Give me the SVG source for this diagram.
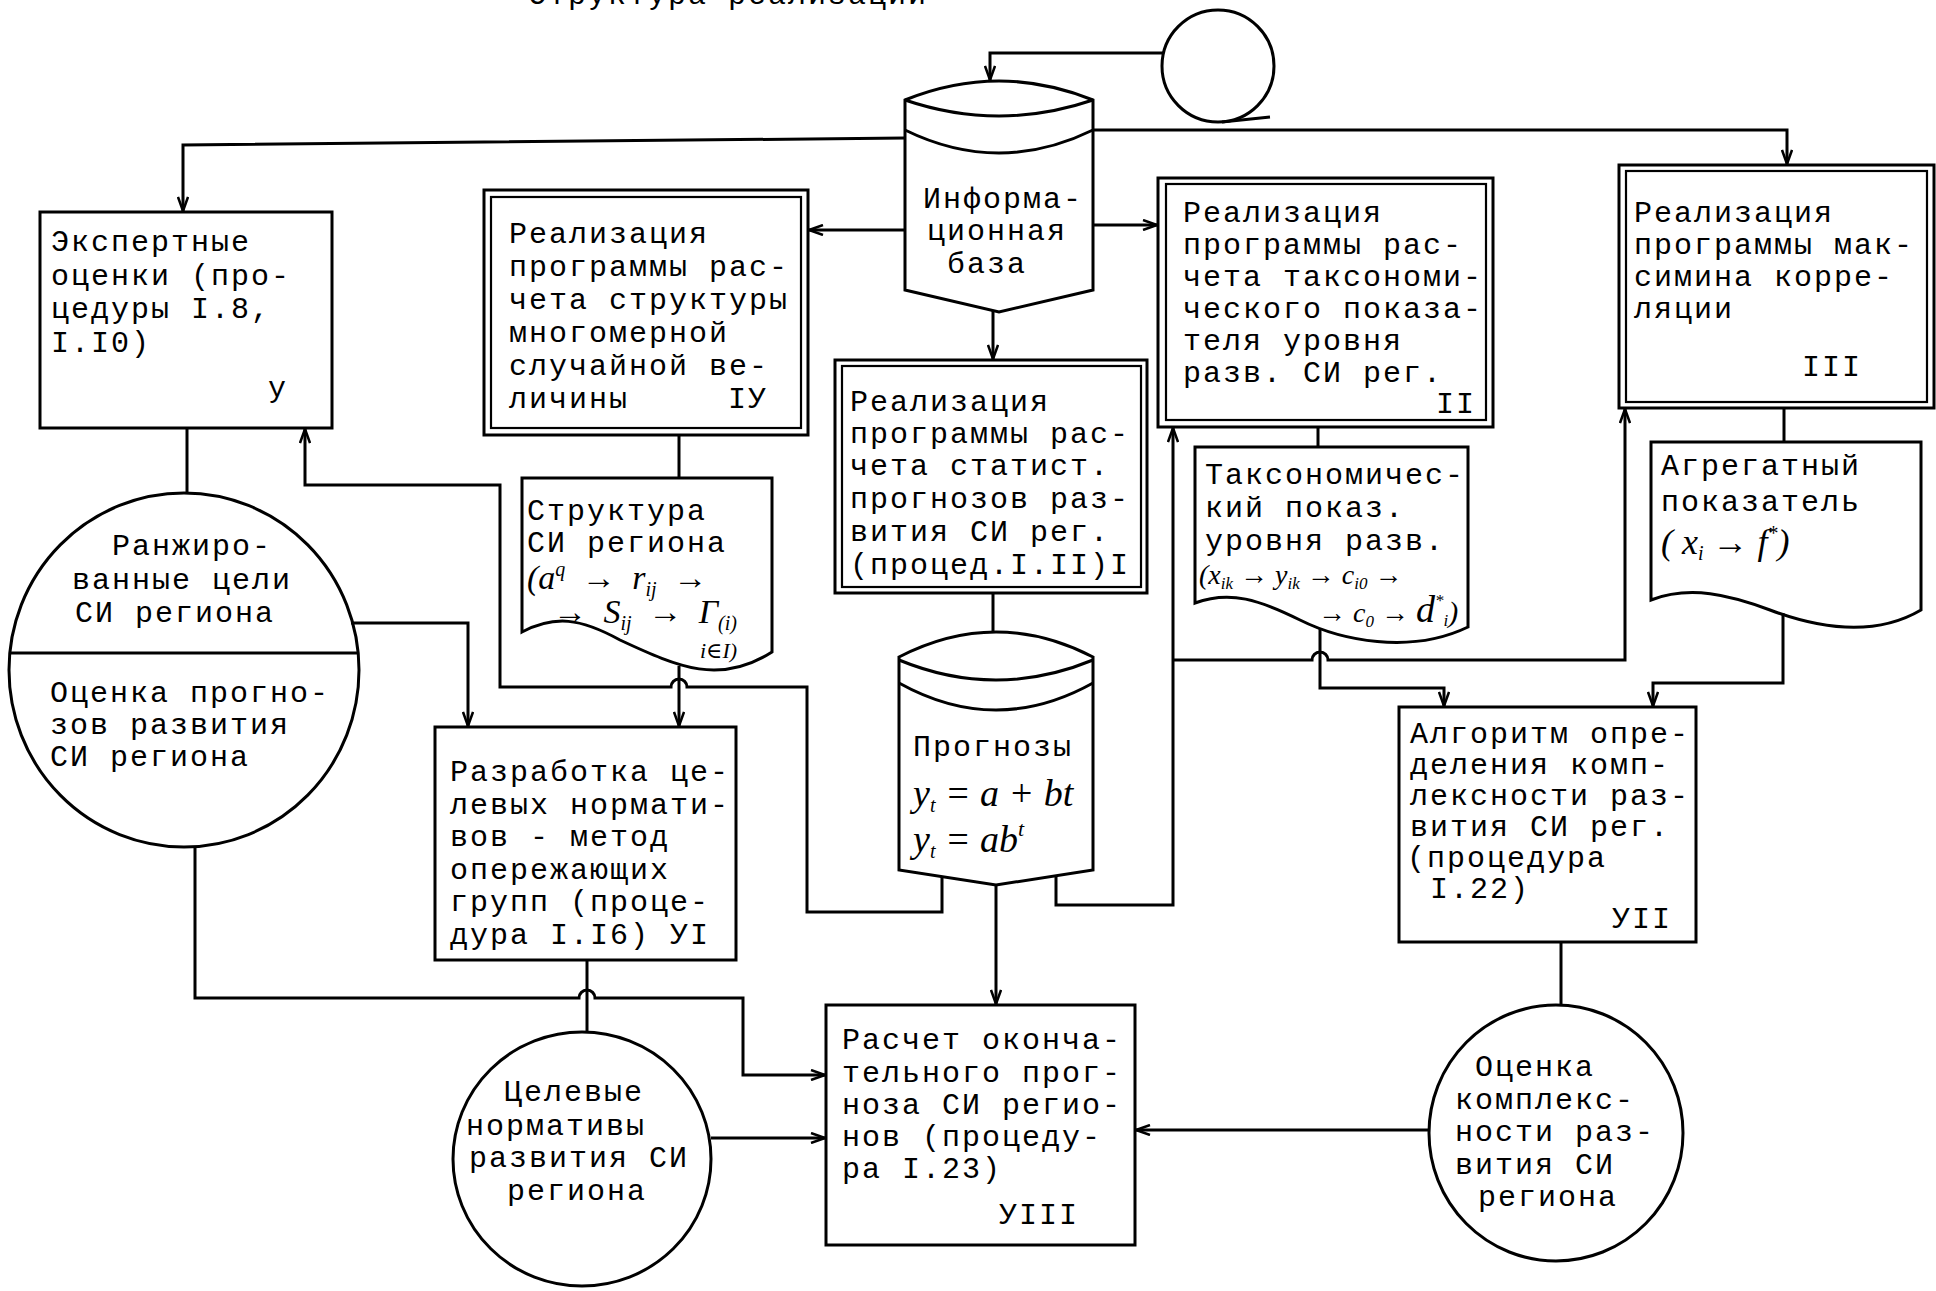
<svg xmlns="http://www.w3.org/2000/svg" width="1936" height="1291" viewBox="0 0 1936 1291">
<defs>
<style>
.bx{fill:#fff;stroke:#000;stroke-width:3}
.bi{fill:none;stroke:#000;stroke-width:2.2}
.ln{fill:none;stroke:#000;stroke-width:3}
.t{font-family:"Liberation Mono","DejaVu Sans Mono",monospace;font-size:30px;letter-spacing:2px;fill:#000}
.m{font-family:"Liberation Serif","DejaVu Serif",serif;font-style:italic;fill:#000}
</style>
<marker id="a" viewBox="0 0 16 12" refX="15" refY="6" markerWidth="16" markerHeight="12" markerUnits="userSpaceOnUse" orient="auto"><path d="M1,1 L15,6 L1,11" fill="none" stroke="#000" stroke-width="2.5"/></marker>
</defs>
<rect width="1936" height="1291" fill="#fff"/>
<text class="t" x="528" y="4">Структура реализации</text>

<g id="tape">
<circle cx="1218" cy="66" r="56" class="bx"/>
<path d="M1222,122 L1270,117" class="ln"/>
</g>

<g id="infobase">
<path d="M905,100 Q999,62 1093,100 V290 L999,312 L905,290 Z" class="bx"/>
<path d="M905,100 Q999,132 1093,100 M905,130 Q999,176 1093,130" class="ln"/>
<text class="t" x="923" y="208">Информа-</text>
<text class="t" x="927" y="240">ционная</text>
<text class="t" x="947" y="273">база</text>
</g>

<g id="n5">
<rect x="40" y="212" width="292" height="216" class="bx"/>
<text class="t" x="51" y="251">Экспертные</text>
<text class="t" x="51" y="285">оценки (про-</text>
<text class="t" x="51" y="318">цедуры I.8,</text>
<text class="t" x="51" y="352">I.I0)</text>
<text class="t" x="268" y="397">у</text>
</g>

<g id="n4">
<rect x="484" y="190" width="324" height="245" class="bx"/>
<rect x="491" y="197" width="310" height="231" class="bi"/>
<text class="t" x="509" y="243">Реализация</text>
<text class="t" x="509" y="276">программы рас-</text>
<text class="t" x="509" y="309">чета структуры</text>
<text class="t" x="509" y="342">многомерной</text>
<text class="t" x="509" y="375">случайной ве-</text>
<text class="t" x="509" y="408">личины</text>
<text class="t" x="728" y="408">IУ</text>
</g>

<g id="n1">
<rect x="835" y="360" width="312" height="233" class="bx"/>
<rect x="842" y="366" width="299" height="221" class="bi"/>
<text class="t" x="850" y="411">Реализация</text>
<text class="t" x="850" y="443">программы рас-</text>
<text class="t" x="850" y="475">чета статист.</text>
<text class="t" x="850" y="508">прогнозов раз-</text>
<text class="t" x="850" y="541">вития СИ рег.</text>
<text class="t" x="850" y="574">(процед.I.II)I</text>
</g>

<g id="n2">
<rect x="1158" y="178" width="335" height="249" class="bx"/>
<rect x="1166" y="184" width="320" height="236" class="bi"/>
<text class="t" x="1183" y="222">Реализация</text>
<text class="t" x="1183" y="254">программы рас-</text>
<text class="t" x="1183" y="286">чета таксономи-</text>
<text class="t" x="1183" y="318">ческого показа-</text>
<text class="t" x="1183" y="350">теля уровня</text>
<text class="t" x="1183" y="382">разв. СИ рег.</text>
<text class="t" x="1436" y="413">II</text>
</g>

<g id="n3">
<rect x="1619" y="165" width="315" height="243" class="bx"/>
<rect x="1626" y="171" width="301" height="231" class="bi"/>
<text class="t" x="1634" y="222">Реализация</text>
<text class="t" x="1634" y="254">программы мак-</text>
<text class="t" x="1634" y="286">симина корре-</text>
<text class="t" x="1634" y="318">ляции</text>
<text class="t" x="1802" y="376">III</text>
</g>

<g id="doc-struct">
<path d="M522,478 H772 V652 C720,685 680,668 620,640 C580,618 555,615 522,632 Z" class="bx"/>
<text class="t" x="527" y="520">Структура</text>
<text class="t" x="527" y="552">СИ региона</text>
<text class="m" x="527" y="589" font-size="34" word-spacing="8">(a<tspan dy="-13" font-size="20">q</tspan><tspan dy="13"> → r</tspan><tspan dy="7" font-size="20">ij</tspan><tspan dy="-7"> →</tspan></text>
<text class="m" x="553" y="623" font-size="34" word-spacing="8">→ S<tspan dy="7" font-size="20">ij</tspan><tspan dy="-7"> → Γ</tspan><tspan dy="7" font-size="20">(i)</tspan></text>
<text class="m" x="700" y="658" font-size="22">i∈I)</text>
</g>

<g id="doc-taxon">
<path d="M1195,447 H1468 V627 C1410,655 1340,640 1300,620 C1260,600 1230,590 1195,603 Z" class="bx"/>
<text class="t" x="1205" y="484">Таксономичес-</text>
<text class="t" x="1205" y="517">кий показ.</text>
<text class="t" x="1205" y="550">уровня разв.</text>
<text class="m" x="1199" y="584" font-size="28">(x<tspan dy="5" font-size="17">ik</tspan><tspan dy="-5"> → y</tspan><tspan dy="5" font-size="17">ik</tspan><tspan dy="-5"> → c</tspan><tspan dy="5" font-size="17">i0</tspan><tspan dy="-5"> →</tspan></text>
<text class="m" x="1318" y="622" font-size="28">→ c<tspan dy="5" font-size="17">0</tspan><tspan dy="-5"> → </tspan><tspan font-size="38">d</tspan><tspan dy="-16" font-size="17">*</tspan><tspan dy="20" font-size="17">i</tspan><tspan dy="-4" font-size="30">)</tspan></text>
</g>

<g id="doc-aggr">
<path d="M1651,442 H1921 V610 C1870,640 1810,625 1770,610 C1730,595 1690,585 1651,600 Z" class="bx"/>
<text class="t" x="1661" y="475">Агрегатный</text>
<text class="t" x="1661" y="511">показатель</text>
<text class="m" x="1661" y="554" font-size="36">( x<tspan dy="6" font-size="20">i</tspan><tspan dy="-6"> → f</tspan><tspan dy="-14" font-size="20">*</tspan><tspan dy="14">)</tspan></text>
</g>

<g id="forecasts">
<path d="M899,657 Q996,607 1093,657 V870 L996,885 L899,870 Z" class="bx"/>
<path d="M899,660 Q996,700 1093,660 M899,683 Q996,737 1093,683" class="ln"/>
<text class="t" x="913" y="756">Прогнозы</text>
<text class="m" x="913" y="806" font-size="38">y<tspan dy="6" font-size="20">t</tspan><tspan dy="-6"> = a + bt</tspan></text>
<text class="m" x="913" y="852" font-size="38">y<tspan dy="6" font-size="20">t</tspan><tspan dy="-6"> = ab</tspan><tspan dy="-16" font-size="22">t</tspan></text>
</g>

<g id="goals">
<ellipse cx="184" cy="670" rx="175" ry="177" class="bx"/>
<path d="M10,653 H358" class="ln"/>
<text class="t" x="112" y="555">Ранжиро-</text>
<text class="t" x="72" y="589">ванные цели</text>
<text class="t" x="75" y="622">СИ региона</text>
<text class="t" x="50" y="702">Оценка прогно-</text>
<text class="t" x="50" y="734">зов развития</text>
<text class="t" x="50" y="766">СИ региона</text>
</g>

<g id="n6">
<rect x="435" y="727" width="301" height="233" class="bx"/>
<text class="t" x="450" y="781">Разработка це-</text>
<text class="t" x="450" y="814">левых нормати-</text>
<text class="t" x="450" y="846">вов - метод</text>
<text class="t" x="450" y="879">опережающих</text>
<text class="t" x="450" y="911">групп (проце-</text>
<text class="t" x="450" y="944">дура I.I6) УI</text>
</g>

<g id="n7">
<rect x="1399" y="707" width="297" height="235" class="bx"/>
<text class="t" x="1410" y="743">Алгоритм опре-</text>
<text class="t" x="1410" y="774">деления комп-</text>
<text class="t" x="1410" y="805">лексности раз-</text>
<text class="t" x="1410" y="836">вития СИ рег.</text>
<text class="t" x="1407" y="867">(процедура</text>
<text class="t" x="1430" y="898">I.22)</text>
<text class="t" x="1612" y="928">УII</text>
</g>

<g id="n8">
<rect x="826" y="1005" width="309" height="240" class="bx"/>
<text class="t" x="842" y="1049">Расчет оконча-</text>
<text class="t" x="842" y="1082">тельного прог-</text>
<text class="t" x="842" y="1114">ноза СИ регио-</text>
<text class="t" x="842" y="1146">нов (процеду-</text>
<text class="t" x="842" y="1178">ра I.23)</text>
<text class="t" x="999" y="1224">УIII</text>
</g>

<g id="norms">
<ellipse cx="582" cy="1159" rx="129" ry="127" class="bx"/>
<text class="t" x="504" y="1101">Целевые</text>
<text class="t" x="466" y="1135">нормативы</text>
<text class="t" x="469" y="1167">развития СИ</text>
<text class="t" x="507" y="1200">региона</text>
</g>

<g id="complex">
<ellipse cx="1556" cy="1133" rx="127" ry="128" class="bx"/>
<text class="t" x="1475" y="1076">Оценка</text>
<text class="t" x="1455" y="1109">комплекс-</text>
<text class="t" x="1455" y="1141">ности раз-</text>
<text class="t" x="1455" y="1174">вития СИ</text>
<text class="t" x="1478" y="1206">региона</text>
</g>

<g id="connectors" class="ln">
<path d="M1163,53 H990 V80" marker-end="url(#a)"/>
<path d="M905,138 L183,145 V211" marker-end="url(#a)"/>
<path d="M1093,130 H1787 V164" marker-end="url(#a)"/>
<path d="M905,230 H809" marker-end="url(#a)"/>
<path d="M1093,225 H1157" marker-end="url(#a)"/>
<path d="M993,311 V359" marker-end="url(#a)"/>
<path d="M679,435 V478"/>
<path d="M187,428 V493"/>
<path d="M679,666 V726" marker-end="url(#a)"/>
<path d="M993,593 V633"/>
<path d="M942,877 V912 H807 V687 H687 A8,8 0 0 0 671,687 H500 V485 H305 V429" marker-end="url(#a)"/>
<path d="M1056,876 V905 H1173 V428" marker-end="url(#a)"/>
<path d="M1173,660 H1312 A8,8 0 0 1 1328,660 H1625 V409" marker-end="url(#a)"/>
<path d="M996,885 V1004" marker-end="url(#a)"/>
<path d="M1318,427 V447"/>
<path d="M1320,628 V688 H1444 V706" marker-end="url(#a)"/>
<path d="M1784,408 V442"/>
<path d="M1783,613 V683 H1653 V706" marker-end="url(#a)"/>
<path d="M351,623 H468 V726" marker-end="url(#a)"/>
<path d="M195,847 V998 H579 A8,8 0 0 1 595,998 H743 V1075 H825" marker-end="url(#a)"/>
<path d="M587,960 V1032"/>
<path d="M711,1138 H825" marker-end="url(#a)"/>
<path d="M1561,942 V1005"/>
<path d="M1429,1130 H1136" marker-end="url(#a)"/>
</g>
</svg>
